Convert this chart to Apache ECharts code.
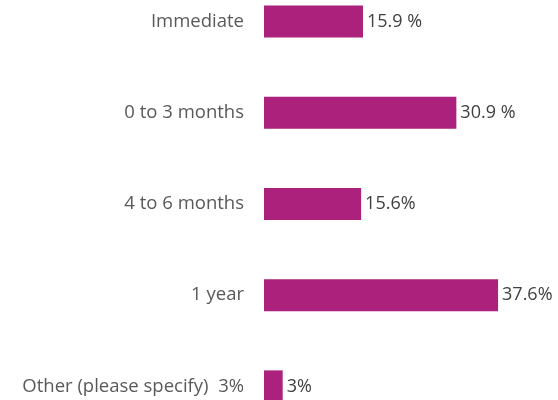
<!DOCTYPE html>
<html>
<head>
<meta charset="utf-8">
<script src="https://cdn.jsdelivr.net/npm/echarts@6/dist/echarts.min.js"></script>
<style>
  html, body { margin: 0; padding: 0; background: #fff; }
  #chart { width: 558px; height: 400px; }
</style>
</head>
<body>
<div id="chart"></div>
<script>
// categories top to bottom
const categories = ['Immediate', '0 to 3 months', '4 to 6 months', '1 year', 'Other (please specify)  3%']
const values = [15.9, 30.9, 15.6, 37.6, 3]
const valueLabels = ['15.9 %', '30.9 %', '15.6%', '37.6%', '3%']

const BAR_COLOR = '#AB217B'

const chart = echarts.init(document.getElementById('chart'))

chart.setOption({
  animation: false,
  grid: {
    left: 264,
    right: 45,
    top: -24,
    bottom: -32,
    outerBoundsMode: 'none',
    containLabel: false
  },
  xAxis: {
    type: 'value',
    min: 0,
    max: 40,
    show: false
  },
  yAxis: {
    type: 'category',
    inverse: true,
    data: categories,
    axisLine: { show: false },
    axisTick: { show: false },
    axisLabel: {
      color: '#595959',
      fontFamily: 'Open Sans',
      fontSize: 18.5,
      margin: 20
    }
  },
  series: [{
    type: 'bar',
    data: values,
    barWidth: 32,
    itemStyle: { color: BAR_COLOR },
    label: {
      show: true,
      position: 'right',
      distance: 4,
      color: '#404040',
      fontFamily: 'Open Sans',
      fontSize: 18,
      formatter: p => valueLabels[p.dataIndex]
    }
  }]
})
</script>
</body>
</html>
